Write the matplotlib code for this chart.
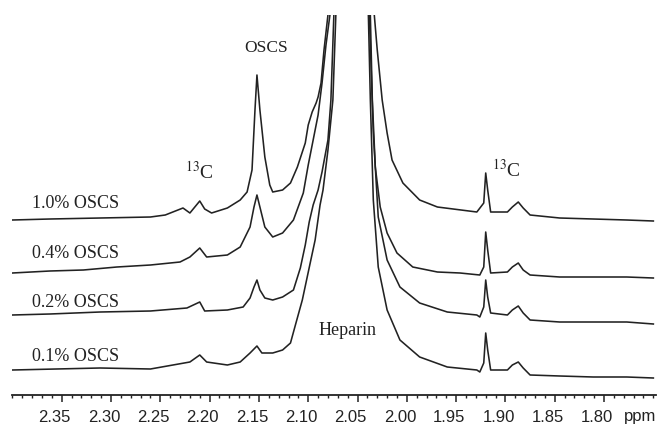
"""
Stacked 1H NMR spectra (acetyl region) of heparin spiked with OSCS.
Four traces, 0.1 % to 1.0 % OSCS, offset vertically like the original figure.
"""
import matplotlib
matplotlib.use("Agg")
import matplotlib.pyplot as plt
from matplotlib.ticker import MultipleLocator
from matplotlib.transforms import ScaledTranslation

# =============================================================================
# DATA (intensity in arbitrary units above baseline)
# =============================================================================
labels = ["1.0% OSCS", "0.4% OSCS", "0.2% OSCS", "0.1% OSCS"]

ppm_10 = [2.400, 2.362, 2.311, 2.260, 2.245, 2.227, 2.220, 2.210, 2.205, 2.198,
          2.182, 2.169, 2.162, 2.157, 2.154, 2.152, 2.149, 2.144, 2.139, 2.136,
          2.126, 2.118, 2.111, 2.103, 2.100, 2.096, 2.092, 2.090, 2.087, 2.084,
          2.080, 2.056, 2.033, 2.030, 2.025, 2.020, 2.015, 2.004, 1.987, 1.969,
          1.953, 1.929, 1.922, 1.920, 1.918, 1.915, 1.898, 1.893, 1.887, 1.882,
          1.875, 1.845, 1.811, 1.777, 1.750]
int_10 = [0, 1, 2, 3, 5, 12, 7, 19, 11, 7,
          12, 20, 28, 50, 110, 145, 110, 63, 35, 28,
          30, 37, 53, 77, 95, 108, 117, 123, 137, 170,
          205, 820, 205, 170, 120, 87, 60, 37, 20, 13,
          11, 8, 17, 47, 30, 8, 8, 13, 18, 12,
          5, 2, 1, 0, -1]

ppm_04 = [2.400, 2.362, 2.328, 2.294, 2.260, 2.230, 2.220, 2.210, 2.203, 2.182,
          2.169, 2.159, 2.155, 2.152, 2.149, 2.144, 2.136, 2.126, 2.115, 2.105,
          2.100, 2.095, 2.090, 2.086, 2.082, 2.078, 2.056, 2.037, 2.035, 2.032,
          2.027, 2.020, 2.010, 1.994, 1.969, 1.946, 1.926, 1.922, 1.920, 1.918,
          1.915, 1.898, 1.893, 1.887, 1.882, 1.875, 1.845, 1.811, 1.777, 1.750]
int_04 = [0, 2, 3, 6, 8, 11, 16, 25, 16, 18,
          26, 46, 66, 78, 66, 46, 36, 40, 53, 80,
          108, 133, 158, 190, 228, 258, 873, 258, 173, 106,
          66, 40, 20, 6, 1, 0, -2, 6, 41, 23,
          0, 1, 6, 10, 3, -2, -4, -4, -4, -5]

ppm_02 = [2.400, 2.362, 2.311, 2.260, 2.223, 2.210, 2.205, 2.182, 2.166, 2.159,
          2.155, 2.152, 2.149, 2.144, 2.136, 2.126, 2.115, 2.108, 2.103, 2.099,
          2.095, 2.090, 2.086, 2.080, 2.077, 2.074, 2.056, 2.038, 2.034, 2.029,
          2.020, 2.007, 1.987, 1.959, 1.929, 1.926, 1.922, 1.920, 1.918, 1.915,
          1.898, 1.893, 1.887, 1.882, 1.875, 1.845, 1.811, 1.777, 1.750]
int_02 = [0, 1, 3, 4, 7, 13, 4, 5, 8, 17,
          28, 35, 25, 17, 15, 18, 25, 47, 70, 93,
          110, 125, 143, 175, 215, 300, 915, 300, 182, 98,
          55, 28, 12, 3, 0, -2, 8, 35, 18, 2,
          0, 5, 9, 2, -5, -7, -7, -7, -9]

ppm_01 = [2.400, 2.311, 2.260, 2.220, 2.210, 2.203, 2.182, 2.169, 2.159, 2.152,
          2.147, 2.136, 2.126, 2.118, 2.113, 2.106, 2.098, 2.093, 2.088, 2.085,
          2.080, 2.075, 2.072, 2.056, 2.039, 2.037, 2.034, 2.029, 2.020, 2.007,
          1.987, 1.959, 1.929, 1.926, 1.922, 1.920, 1.918, 1.915, 1.898, 1.893,
          1.887, 1.882, 1.875, 1.845, 1.811, 1.777, 1.750]
int_01 = [0, 2, 1, 8, 15, 8, 5, 8, 17, 24,
          17, 17, 20, 27, 45, 70, 107, 130, 165, 180,
          220, 270, 355, 970, 355, 270, 170, 103, 60, 30,
          13, 3, 0, -2, 7, 37, 20, 0, 0, 5,
          8, 2, -5, -6, -7, -7, -8]

# =============================================================================
# STYLE
# =============================================================================
INK = "#222222"
SERIF = ["Liberation Serif", "DejaVu Serif"]
SANS = ["Liberation Sans", "DejaVu Sans"]
plt.rcParams["mathtext.fontset"] = "stix"

# vertical stacking of the traces (bottom of plot = 0)
OFFSETS = [175, 122, 80, 25]
LABEL_Y = [192, 142, 93, 38]


def main():
    fig = plt.figure(figsize=(6.69, 4.24), dpi=100)
    ax = fig.add_axes([0.0175, 0.0684, 0.9631, 0.8962])

    traces = [(ppm_10, int_10), (ppm_04, int_04), (ppm_02, int_02), (ppm_01, int_01)]
    for (x, y), off in zip(traces, OFFSETS):
        ax.plot(x, [v + off for v in y], color=INK, lw=1.15, solid_joinstyle="round")

    for lab, ly in zip(labels, LABEL_Y):
        ax.text(2.380, ly, lab, ha="left", va="center", fontsize=13,
                family=SERIF, color=INK)

    ax.text(2.143, 347, "OSCS", ha="center", va="center", fontsize=12.5,
            family=SERIF, color=INK)
    ax.text(2.210, 223, r"$^{13}$C", ha="center", va="center", fontsize=14,
            family=SERIF, color=INK)
    ax.text(1.899, 225, r"$^{13}$C", ha="center", va="center", fontsize=14,
            family=SERIF, color=INK)
    ax.text(2.060, 65, "Heparin", ha="center", va="center", fontsize=13,
            family=SERIF, color=INK)

    ax.set_xlim(2.4007, 1.7473)
    ax.set_ylim(0, 380)
    ax.set_yticks([])
    for side in ("left", "right", "top"):
        ax.spines[side].set_visible(False)
    ax.spines["bottom"].set_color(INK)
    ax.spines["bottom"].set_linewidth(1.3)

    ax.xaxis.set_major_locator(MultipleLocator(0.05))
    ax.xaxis.set_minor_locator(MultipleLocator(0.01))
    ax.tick_params(axis="x", which="major", direction="out", length=5, width=1.1,
                   color=INK, pad=6, labelsize=12, labelcolor=INK)
    ax.tick_params(axis="x", which="minor", direction="out", length=2, width=1.0, color=INK)
    ax.set_xticks([2.35, 2.30, 2.25, 2.20, 2.15, 2.10, 2.05, 2.00, 1.95, 1.90, 1.85, 1.80])
    shift = ScaledTranslation(-0.07, 0, fig.dpi_scale_trans)
    for tl in ax.get_xticklabels():
        tl.set_family(SANS)
        tl.set_transform(tl.get_transform() + shift)

    fig.text(640 / 669, 1 - 417 / 424, "ppm", ha="center", va="center",
             fontsize=12, family=SANS, color=INK)

    fig.savefig("out.png", dpi=100, facecolor="white")
    plt.close(fig)


if __name__ == "__main__":
    main()
